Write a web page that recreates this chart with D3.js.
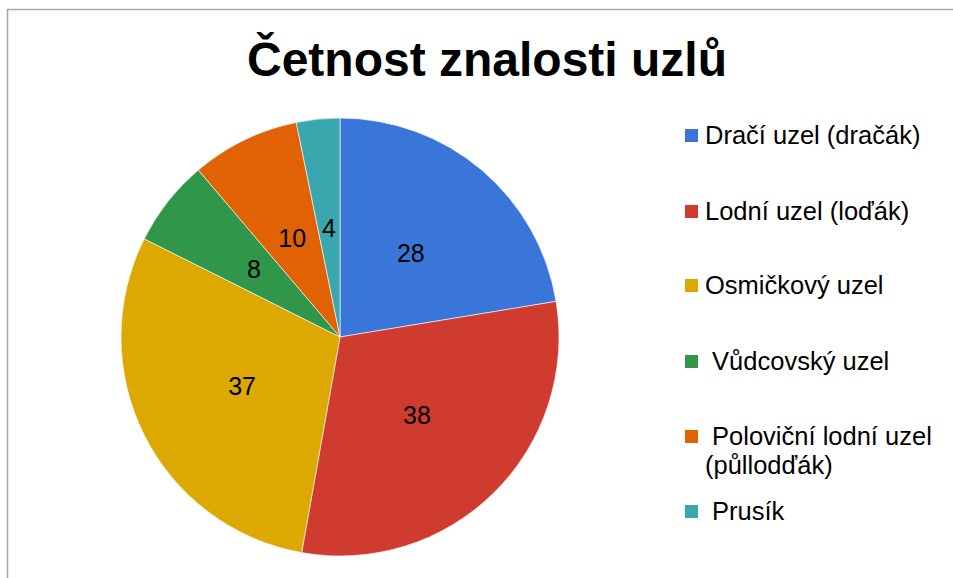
<!DOCTYPE html>
<html>
<head>
<meta charset="utf-8">
<script src="https://cdn.jsdelivr.net/npm/d3@7"></script>
<style>
  body { margin: 0; background: #fff; }
  svg { display: block; font-family: "Liberation Sans", Arial, sans-serif; }
</style>
</head>
<body>
<svg width="953" height="578"></svg>
<script>
// data
const categories = [
  'Dračí uzel (dračák)',
  'Lodní uzel (loďák)',
  'Osmičkový uzel',
  ' Vůdcovský uzel',
  ' Poloviční lodní uzel\n(půllodďák)',
  ' Prusík'
];
const values = [28, 38, 37, 8, 10, 4];
const colors = ['#3a75d9', '#cf3b2f', '#dea803', '#2f964a', '#e16205', '#3aa6ad'];
const legendY = [135, 211, 285, 361, 436, 511];

const svg = d3.select('svg');

// frame
svg.append('rect')
  .attr('x', 7.5).attr('y', 9.5)
  .attr('width', 960).attr('height', 600)
  .attr('fill', 'none')
  .attr('stroke', '#a6a6a6')
  .attr('stroke-width', 1.5);

// title
svg.append('text')
  .attr('x', 487).attr('y', 76)
  .attr('text-anchor', 'middle')
  .attr('font-size', 48)
  .attr('font-weight', 'bold')
  .text('Četnost znalosti uzlů');

const cx = 340, cy = 337, r = 219;

const pie = d3.pie().sort(null).value((d) => d);
const arc = d3.arc().innerRadius(0).outerRadius(r);
const labelArc = d3.arc().innerRadius(r * 0.5).outerRadius(r * 0.5);

const g = svg.append('g').attr('transform', `translate(${cx},${cy})`);

const slices = g.selectAll('g.slice')
  .data(pie(values))
  .enter()
  .append('g')
  .attr('class', 'slice');

slices.append('path')
  .attr('d', arc)
  .attr('fill', (d, i) => colors[i])
  .attr('stroke', '#fff')
  .attr('stroke-width', 0.6);

slices.append('text')
  .attr('transform', (d) => `translate(${labelArc.centroid(d)})`)
  .attr('text-anchor', 'middle')
  .attr('dy', '.35em')
  .attr('font-size', 25)
  .attr('fill', '#000')
  .text((d) => d.data);

// legend
const legend = svg.append('g').selectAll('g')
  .data(categories)
  .enter()
  .append('g')
  .attr('transform', (d, i) => `translate(685,${legendY[i]})`);

legend.append('rect')
  .attr('x', 0).attr('y', -6)
  .attr('width', 13).attr('height', 13)
  .attr('fill', (d, i) => colors[i]);

// one text per line so the wrapped item keeps its own line boxes
legend.each(function (d) {
  d.split('\n').forEach((line, j) => {
    d3.select(this).append('text')
      .attr('x', 20)
      .attr('y', j * 29)
      .attr('dy', '.35em')
      .attr('font-size', 25.5)
      .attr('fill', '#000')
      .style('white-space', 'pre')
      .text(line);
  });
});
</script>
</body>
</html>
